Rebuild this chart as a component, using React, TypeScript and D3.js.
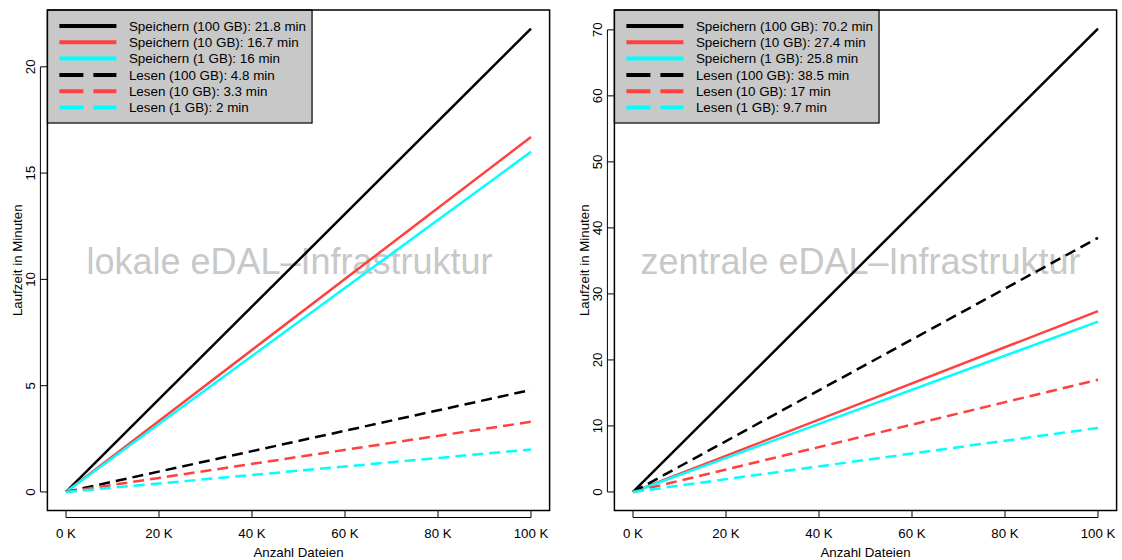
import React, { useEffect, useRef } from "react";
import * as d3 from "d3";

const fileCounts = [0, 100000];
const seriesNames = [
  "Speichern (100 GB)",
  "Speichern (10 GB)",
  "Speichern (1 GB)",
  "Lesen (100 GB)",
  "Lesen (10 GB)",
  "Lesen (1 GB)",
];
const seriesColors = ["#000000", "#ff4040", "#00ffff", "#000000", "#ff4040", "#00ffff"];
const seriesDashed = [false, false, false, true, true, true];

const localEnd = [21.8, 16.7, 16, 4.8, 3.3, 2];
const centralEnd = [70.2, 27.4, 25.8, 38.5, 17, 9.7];

const xTicks = [0, 20000, 40000, 60000, 80000, 100000];
const localYTicks = [0, 5, 10, 15, 20];
const centralYTicks = [0, 10, 20, 30, 40, 50, 60, 70];

const panels = [
  { title: "lokale eDAL\u2013Infrastruktur", ends: localEnd, yTicks: localYTicks, left: 47.4, titleX: 289.5 },
  { title: "zentrale eDAL\u2013Infrastruktur", ends: centralEnd, yTicks: centralYTicks, left: 614.4, titleX: 860.5 },
];

const FONT = "'Liberation Sans', Arial, Helvetica, sans-serif";

export default function App() {
  const ref = useRef<SVGSVGElement>(null);

  useEffect(() => {
    const svg = d3.select(ref.current);
    svg.selectAll("*").remove();
    const top = 10;
    const bottom = 510.5;
    const width = 502.2;

    panels.forEach((p) => {
      const maxY = d3.max(p.ends) as number;
      const pad = maxY * 0.04;
      const x = d3.scaleLinear().domain([-4000, 104000]).range([p.left, p.left + width]);
      const y = d3.scaleLinear().domain([-pad, maxY + pad]).range([bottom, top]);
      const g = svg.append("g");

      // watermark
      g.append("text")
        .attr("x", p.titleX)
        .attr("y", 274)
        .attr("text-anchor", "middle")
        .attr("font-family", FONT)
        .attr("font-size", 36)
        .attr("fill", "#c8c8c8")
        .text(p.title);

      const line = d3
        .line<number>()
        .x((_, i) => x(fileCounts[i]))
        .y((d) => y(d));

      p.ends.forEach((end, si) => {
        const vals = [0, end];
        g.append("path")
          .attr("d", line(vals) as string)
          .attr("fill", "none")
          .attr("stroke", seriesColors[si])
          .attr("stroke-width", 2.5)
          .attr("stroke-dasharray", seriesDashed[si] ? "11,6" : null);
      });

      // legend
      const lg = g.append("g");
      const rect = lg
        .append("rect")
        .attr("x", p.left)
        .attr("y", top)
        .attr("height", 113)
        .attr("fill", "#c8c8c8")
        .attr("stroke", "#000")
        .attr("stroke-width", 1.2);
      let maxLen = 0;
      p.ends.forEach((end, si) => {
        const ry = 26 + si * 16.3;
        lg.append("line")
          .attr("x1", p.left + 12)
          .attr("x2", p.left + 69)
          .attr("y1", ry)
          .attr("y2", ry)
          .attr("stroke", seriesColors[si])
          .attr("stroke-width", 4)
          .attr("stroke-dasharray", seriesDashed[si] ? "24,10" : null);
        const t = lg
          .append("text")
          .attr("x", p.left + 81.5)
          .attr("y", ry)
          .attr("dy", "0.36em")
          .attr("font-family", FONT)
          .attr("font-size", 13.4)
          .attr("fill", "#000")
          .text(`${seriesNames[si]}: ${end} min`);
        const n = t.node() as SVGTextElement;
        maxLen = Math.max(maxLen, n.getComputedTextLength());
      });
      rect.attr("width", 81.5 + maxLen + 6);

      // box
      g.append("rect")
        .attr("x", p.left)
        .attr("y", top)
        .attr("width", width)
        .attr("height", bottom - top)
        .attr("fill", "none")
        .attr("stroke", "#000")
        .attr("stroke-width", 1.5);

      // x axis
      const xa = g.append("g");
      xa.append("line")
        .attr("x1", x(xTicks[0]))
        .attr("x2", x(xTicks[xTicks.length - 1]))
        .attr("y1", bottom + 7)
        .attr("y2", bottom + 7)
        .attr("stroke", "#000");
      xTicks.forEach((t) => {
        xa.append("line")
          .attr("x1", x(t))
          .attr("x2", x(t))
          .attr("y1", bottom + 7)
          .attr("y2", bottom)
          .attr("stroke", "#000");
        xa.append("text")
          .attr("x", x(t))
          .attr("y", 538)
          .attr("text-anchor", "middle")
          .attr("font-family", FONT)
          .attr("font-size", 13.3)
          .text(`${t / 1000} K`);
      });
      xa.append("text")
        .attr("x", p.left + width / 2)
        .attr("y", 557)
        .attr("text-anchor", "middle")
        .attr("font-family", FONT)
        .attr("font-size", 13.3)
        .text("Anzahl Dateien");

      // y axis
      const ya = g.append("g");
      ya.append("line")
        .attr("x1", p.left - 7)
        .attr("x2", p.left - 7)
        .attr("y1", y(p.yTicks[0]))
        .attr("y2", y(p.yTicks[p.yTicks.length - 1]))
        .attr("stroke", "#000");
      p.yTicks.forEach((t) => {
        ya.append("line")
          .attr("x1", p.left - 7)
          .attr("x2", p.left)
          .attr("y1", y(t))
          .attr("y2", y(t))
          .attr("stroke", "#000");
        ya.append("text")
          .attr("transform", `translate(${p.left - 12.4},${y(t)}) rotate(-90)`)
          .attr("text-anchor", "middle")
          .attr("font-family", FONT)
          .attr("font-size", 13.3)
          .text(String(t));
      });
      ya.append("text")
        .attr("transform", `translate(${p.left - 25.6},${(top + bottom) / 2}) rotate(-90)`)
        .attr("text-anchor", "middle")
        .attr("font-family", FONT)
        .attr("font-size", 13.3)
        .text("Laufzeit in Minuten");
    });
  }, []);

  return (
    <svg
      ref={ref}
      width={1122}
      height={560}
      style={{ position: "absolute", left: 0, top: 0, display: "block", background: "#fff" }}
    />
  );
}
